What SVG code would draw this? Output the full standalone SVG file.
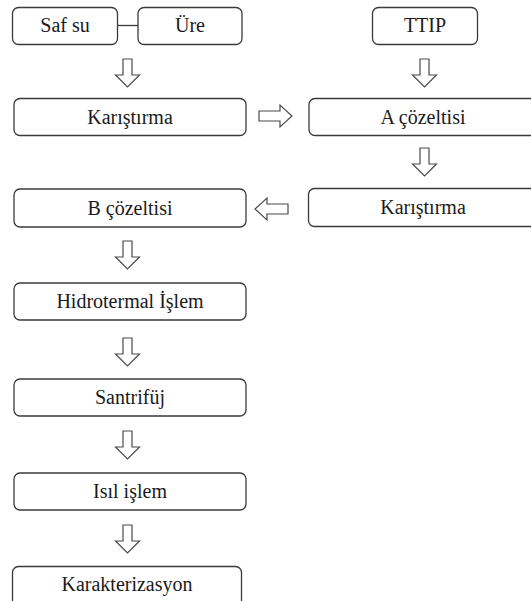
<svg xmlns="http://www.w3.org/2000/svg" xmlns:xlink="http://www.w3.org/1999/xlink" width="531" height="601" viewBox="0 0 531 601">
  <style>
    .box { fill: #ffffff; stroke: #3a3a3a; stroke-width: 1.3; }
    .lbl { font-size: 20px; fill: #1a1a1a; text-anchor: middle; }
    .arr { fill: #ffffff; stroke: #4a4a4a; stroke-width: 1.2; stroke-linejoin: miter; }
    .link { stroke: #3a3a3a; stroke-width: 1.3; fill: none; }
  </style>
  <defs>
    <!-- hollow block arrows, drawn from their tail at the origin -->
    <path id="arrDown" d="M -4.5 0 H 4.5 V 16 H 12 L 0 28 L -12 16 H -4.5 Z"/>
    <path id="arrRight" d="M 0 -5 H 21 V -11 L 33 0 L 21 11 V 5 H 0 Z"/>
    <path id="arrLeft" d="M 0 -5 H -21 V -11 L -33 0 L -21 11 V 5 H 0 Z"/>
  </defs>
  <rect width="531" height="601" fill="#ffffff"/>

  <g id="connectors">
    <line class="link" x1="117" y1="25.5" x2="138" y2="25.5"/>
    <use href="#arrDown" class="arr" x="127.5" y="59"/>
    <use href="#arrDown" class="arr" x="424.5" y="59"/>
    <use href="#arrRight" class="arr" x="259" y="116"/>
    <use href="#arrDown" class="arr" x="424.5" y="148"/>
    <use href="#arrLeft" class="arr" x="288" y="209"/>
    <use href="#arrDown" class="arr" x="127.5" y="241"/>
    <use href="#arrDown" class="arr" x="127.5" y="338"/>
    <use href="#arrDown" class="arr" x="127.5" y="431"/>
    <use href="#arrDown" class="arr" x="127.5" y="525"/>
  </g>

  <g font-family="'Liberation Serif', 'DejaVu Serif', serif">
  <g id="saf-su">
    <rect class="box" x="12.5" y="7.5" width="105" height="37" rx="6"/>
    <text class="lbl" x="65" y="32">Saf su</text>
  </g>
  <g id="ure">
    <rect class="box" x="138" y="7.5" width="104" height="37" rx="6"/>
    <text class="lbl" x="190" y="32">Üre</text>
  </g>
  <g id="ttip">
    <rect class="box" x="372.5" y="7.5" width="105" height="37" rx="6"/>
    <text class="lbl" x="425" y="32">TTIP</text>
  </g>
  <g id="karistirma-1">
    <rect class="box" x="14" y="98.5" width="232" height="37" rx="6"/>
    <text class="lbl" x="130" y="124">Karıştırma</text>
  </g>
  <g id="a-cozeltisi">
    <rect class="box" x="309" y="98.5" width="230" height="37" rx="6"/>
    <text class="lbl" x="423" y="124">A çözeltisi</text>
  </g>
  <g id="karistirma-2">
    <rect class="box" x="308.5" y="188.5" width="230" height="38" rx="6"/>
    <text class="lbl" x="423" y="214">Karıştırma</text>
  </g>
  <g id="b-cozeltisi">
    <rect class="box" x="14" y="189" width="232" height="38" rx="6"/>
    <text class="lbl" x="130" y="215">B çözeltisi</text>
  </g>
  <g id="hidrotermal">
    <rect class="box" x="14" y="283" width="232" height="37" rx="6"/>
    <text class="lbl" x="130" y="308">Hidrotermal İşlem</text>
  </g>
  <g id="santrifuj">
    <rect class="box" x="14" y="379" width="232" height="37" rx="6"/>
    <text class="lbl" x="130" y="404">Santrifüj</text>
  </g>
  <g id="isil-islem">
    <rect class="box" x="14" y="473" width="232" height="37" rx="6"/>
    <text class="lbl" x="130" y="498">Isıl işlem</text>
  </g>
  <g id="karakterizasyon">
    <rect class="box" x="12.5" y="566.5" width="229" height="50" rx="6"/>
    <text class="lbl" x="127" y="591">Karakterizasyon</text>
  </g>
  </g>
</svg>
